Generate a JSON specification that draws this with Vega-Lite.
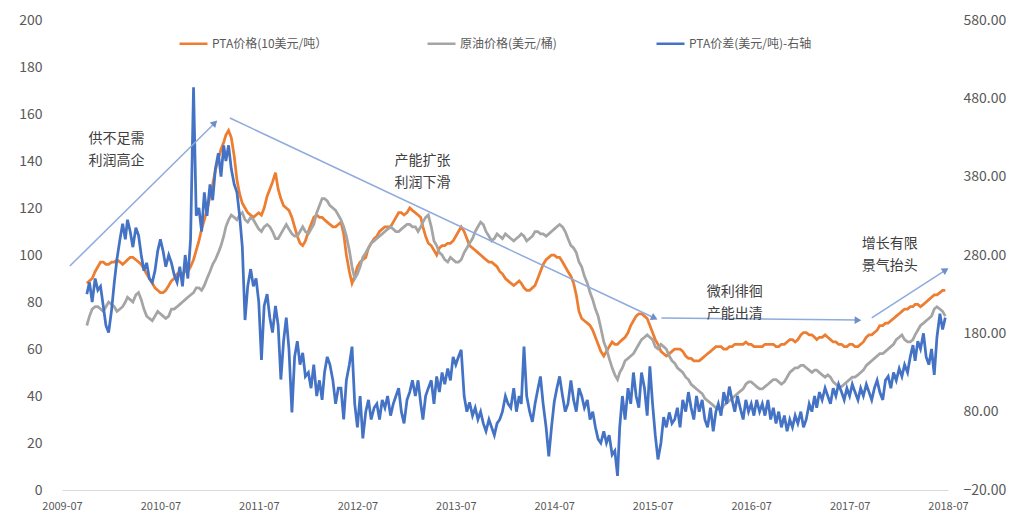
{
"$schema":"https://vega.github.io/schema/vega-lite/v6.json",
"width":886,"height":470,
"autosize":{"type":"none"},
"padding":{"left":62,"top":20,"right":69,"bottom":25},
"background":"white",
"config":{"view":{"stroke":null},"font":"Noto Sans CJK SC","text":{"font":"Noto Sans CJK SC"}},
"datasets":{
"s":[
{"d":"2009-10-01","p":88,"o":70,"s":230},{"d":"2009-10-11","p":89,"o":74,"s":245},{"d":"2009-10-21","p":90,"o":77,"s":220},
{"d":"2009-11-01","p":93,"o":78,"s":250},{"d":"2009-11-11","p":95,"o":78,"s":235},{"d":"2009-11-21","p":97,"o":77,"s":240},
{"d":"2009-12-01","p":97,"o":76,"s":215},{"d":"2009-12-11","p":96,"o":78,"s":190},{"d":"2009-12-21","p":96,"o":80,"s":181},
{"d":"2010-01-01","p":97,"o":79,"s":210},{"d":"2010-01-11","p":97,"o":78,"s":245},{"d":"2010-01-21","p":98,"o":76,"s":275},
{"d":"2010-02-01","p":97,"o":77,"s":300},{"d":"2010-02-11","p":96,"o":78,"s":320},{"d":"2010-02-21","p":97,"o":80,"s":300},
{"d":"2010-03-01","p":98,"o":82,"s":325},{"d":"2010-03-11","p":99,"o":81,"s":310},{"d":"2010-03-21","p":99,"o":80,"s":290},
{"d":"2010-04-01","p":98,"o":83,"s":315},{"d":"2010-04-11","p":97,"o":84,"s":305},{"d":"2010-04-21","p":96,"o":81,"s":280},
{"d":"2010-05-01","p":94,"o":77,"s":260},{"d":"2010-05-11","p":92,"o":74,"s":270},{"d":"2010-05-21","p":90,"o":73,"s":250},
{"d":"2010-06-01","p":88,"o":72,"s":245},{"d":"2010-06-11","p":86,"o":74,"s":260},{"d":"2010-06-21","p":85,"o":76,"s":285},
{"d":"2010-07-01","p":84,"o":75,"s":300},{"d":"2010-07-11","p":84,"o":74,"s":285},{"d":"2010-07-21","p":85,"o":73,"s":265},
{"d":"2010-08-01","p":87,"o":74,"s":280},{"d":"2010-08-11","p":89,"o":77,"s":270},{"d":"2010-08-21","p":90,"o":77,"s":255},
{"d":"2010-09-01","p":92,"o":78,"s":245},{"d":"2010-09-11","p":92,"o":79,"s":265},{"d":"2010-09-21","p":92,"o":80,"s":240},
{"d":"2010-10-01","p":93,"o":81,"s":280},{"d":"2010-10-11","p":93,"o":82,"s":250},{"d":"2010-10-21","p":95,"o":83,"s":300},
{"d":"2010-11-01","p":98,"o":84,"s":494},{"d":"2010-11-11","p":102,"o":86,"s":330},{"d":"2010-11-21","p":106,"o":86,"s":340},
{"d":"2010-12-01","p":111,"o":85,"s":310},{"d":"2010-12-11","p":115,"o":87,"s":360},{"d":"2010-12-21","p":119,"o":90,"s":330},
{"d":"2011-01-01","p":125,"o":93,"s":370},{"d":"2011-01-11","p":130,"o":96,"s":350},{"d":"2011-01-21","p":136,"o":98,"s":390},
{"d":"2011-02-01","p":141,"o":101,"s":410},{"d":"2011-02-11","p":145,"o":104,"s":380},{"d":"2011-02-21","p":148,"o":108,"s":420},
{"d":"2011-03-01","p":151,"o":112,"s":400},{"d":"2011-03-11","p":153,"o":115,"s":420},{"d":"2011-03-21","p":150,"o":117,"s":390},
{"d":"2011-04-01","p":142,"o":116,"s":370},{"d":"2011-04-11","p":132,"o":115,"s":360},{"d":"2011-04-21","p":126,"o":117,"s":330},
{"d":"2011-05-01","p":122,"o":118,"s":290},{"d":"2011-05-11","p":120,"o":115,"s":197},{"d":"2011-05-21","p":118,"o":114,"s":240},
{"d":"2011-06-01","p":117,"o":116,"s":262},{"d":"2011-06-11","p":116,"o":115,"s":240},{"d":"2011-06-21","p":117,"o":113,"s":250},
{"d":"2011-07-01","p":118,"o":111,"s":220},{"d":"2011-07-11","p":117,"o":110,"s":146},{"d":"2011-07-21","p":120,"o":112,"s":215},
{"d":"2011-08-01","p":125,"o":113,"s":230},{"d":"2011-08-11","p":128,"o":112,"s":200},{"d":"2011-08-21","p":131,"o":110,"s":181},
{"d":"2011-09-01","p":135,"o":107,"s":215},{"d":"2011-09-11","p":128,"o":107,"s":190},{"d":"2011-09-21","p":124,"o":109,"s":121},
{"d":"2011-10-01","p":121,"o":111,"s":170},{"d":"2011-10-11","p":120,"o":113,"s":200},{"d":"2011-10-21","p":119,"o":111,"s":160},
{"d":"2011-11-01","p":116,"o":109,"s":79},{"d":"2011-11-11","p":112,"o":108,"s":150},{"d":"2011-11-21","p":108,"o":108,"s":170},
{"d":"2011-12-01","p":105,"o":110,"s":140},{"d":"2011-12-11","p":104,"o":112,"s":155},{"d":"2011-12-21","p":106,"o":110,"s":125},
{"d":"2012-01-01","p":110,"o":109,"s":130},{"d":"2012-01-11","p":113,"o":111,"s":110},{"d":"2012-01-21","p":116,"o":113,"s":140},
{"d":"2012-02-01","p":117,"o":118,"s":100},{"d":"2012-02-11","p":116,"o":121,"s":120},{"d":"2012-02-21","p":116,"o":124,"s":95},
{"d":"2012-03-01","p":115,"o":124,"s":130},{"d":"2012-03-11","p":114,"o":123,"s":150},{"d":"2012-03-21","p":113,"o":121,"s":140},
{"d":"2012-04-01","p":112,"o":120,"s":120},{"d":"2012-04-11","p":112,"o":119,"s":90},{"d":"2012-04-21","p":113,"o":117,"s":110},
{"d":"2012-05-01","p":114,"o":115,"s":110},{"d":"2012-05-11","p":109,"o":112,"s":70},{"d":"2012-05-21","p":100,"o":108,"s":120},
{"d":"2012-06-01","p":93,"o":102,"s":140},{"d":"2012-06-11","p":88,"o":95,"s":163},{"d":"2012-06-21","p":91,"o":90,"s":90},
{"d":"2012-07-01","p":95,"o":92,"s":60},{"d":"2012-07-11","p":97,"o":95,"s":100},{"d":"2012-07-21","p":98,"o":99,"s":46},
{"d":"2012-08-01","p":99,"o":101,"s":80},{"d":"2012-08-11","p":103,"o":103,"s":95},{"d":"2012-08-21","p":105,"o":105,"s":70},
{"d":"2012-09-01","p":107,"o":106,"s":85},{"d":"2012-09-11","p":108,"o":107,"s":90},{"d":"2012-09-21","p":110,"o":108,"s":70},
{"d":"2012-10-01","p":111,"o":109,"s":95},{"d":"2012-10-11","p":112,"o":110,"s":85},{"d":"2012-10-21","p":112,"o":111,"s":100},
{"d":"2012-11-01","p":112,"o":112,"s":75},{"d":"2012-11-11","p":114,"o":111,"s":90},{"d":"2012-11-21","p":116,"o":110,"s":100},
{"d":"2012-12-01","p":118,"o":110,"s":110},{"d":"2012-12-11","p":118,"o":111,"s":80},{"d":"2012-12-21","p":117,"o":112,"s":65},
{"d":"2013-01-01","p":118,"o":113,"s":95},{"d":"2013-01-11","p":120,"o":113,"s":105},{"d":"2013-01-21","p":119,"o":112,"s":120},
{"d":"2013-02-01","p":118,"o":112,"s":100},{"d":"2013-02-11","p":117,"o":110,"s":120},{"d":"2013-02-21","p":116,"o":112,"s":90},
{"d":"2013-03-01","p":112,"o":114,"s":70},{"d":"2013-03-11","p":108,"o":116,"s":100},{"d":"2013-03-21","p":105,"o":117,"s":110},
{"d":"2013-04-01","p":104,"o":112,"s":120},{"d":"2013-04-11","p":102,"o":106,"s":90},{"d":"2013-04-21","p":100,"o":104,"s":125},
{"d":"2013-05-01","p":103,"o":101,"s":105},{"d":"2013-05-11","p":104,"o":100,"s":130},{"d":"2013-05-21","p":104,"o":98,"s":115},
{"d":"2013-06-01","p":105,"o":97,"s":135},{"d":"2013-06-11","p":105,"o":99,"s":120},{"d":"2013-06-21","p":106,"o":98,"s":150},
{"d":"2013-07-01","p":108,"o":97,"s":140},{"d":"2013-07-11","p":110,"o":97,"s":150},{"d":"2013-07-21","p":112,"o":98,"s":159},
{"d":"2013-08-01","p":110,"o":101,"s":100},{"d":"2013-08-11","p":107,"o":103,"s":80},{"d":"2013-08-21","p":104,"o":105,"s":92},
{"d":"2013-09-01","p":103,"o":107,"s":75},{"d":"2013-09-11","p":102,"o":110,"s":85},{"d":"2013-09-21","p":101,"o":112,"s":70},
{"d":"2013-10-01","p":100,"o":114,"s":80},{"d":"2013-10-11","p":99,"o":113,"s":65},{"d":"2013-10-21","p":98,"o":110,"s":55},
{"d":"2013-11-01","p":97,"o":108,"s":70},{"d":"2013-11-11","p":97,"o":106,"s":60},{"d":"2013-11-21","p":96,"o":107,"s":50},
{"d":"2013-12-01","p":95,"o":109,"s":65},{"d":"2013-12-11","p":93,"o":108,"s":70},{"d":"2013-12-21","p":92,"o":107,"s":80},
{"d":"2014-01-01","p":90,"o":109,"s":100},{"d":"2014-01-11","p":89,"o":108,"s":90},{"d":"2014-01-21","p":88,"o":107,"s":85},
{"d":"2014-02-01","p":87,"o":106,"s":110},{"d":"2014-02-11","p":88,"o":107,"s":80},{"d":"2014-02-21","p":89,"o":108,"s":100},
{"d":"2014-03-01","p":88,"o":109,"s":90},{"d":"2014-03-11","p":86,"o":108,"s":163},{"d":"2014-03-21","p":85,"o":106,"s":100},
{"d":"2014-04-01","p":85,"o":107,"s":80},{"d":"2014-04-11","p":86,"o":108,"s":67},{"d":"2014-04-21","p":87,"o":110,"s":90},
{"d":"2014-05-01","p":90,"o":110,"s":108},{"d":"2014-05-11","p":93,"o":109,"s":125},{"d":"2014-05-21","p":96,"o":109,"s":90},
{"d":"2014-06-01","p":98,"o":108,"s":60},{"d":"2014-06-11","p":99,"o":109,"s":23},{"d":"2014-06-21","p":100,"o":110,"s":60},
{"d":"2014-07-01","p":100,"o":111,"s":92},{"d":"2014-07-11","p":99,"o":112,"s":110},{"d":"2014-07-21","p":99,"o":113,"s":125},
{"d":"2014-08-01","p":97,"o":112,"s":100},{"d":"2014-08-11","p":95,"o":110,"s":80},{"d":"2014-08-21","p":93,"o":107,"s":90},
{"d":"2014-09-01","p":91,"o":104,"s":120},{"d":"2014-09-11","p":88,"o":103,"s":95},{"d":"2014-09-21","p":83,"o":101,"s":80},
{"d":"2014-10-01","p":76,"o":97,"s":110},{"d":"2014-10-11","p":73,"o":95,"s":100},{"d":"2014-10-21","p":72,"o":91,"s":85},
{"d":"2014-11-01","p":71,"o":88,"s":95},{"d":"2014-11-11","p":70,"o":84,"s":70},{"d":"2014-11-21","p":68,"o":81,"s":80},
{"d":"2014-12-01","p":65,"o":77,"s":60},{"d":"2014-12-11","p":62,"o":74,"s":45},{"d":"2014-12-21","p":59,"o":69,"s":40},
{"d":"2015-01-01","p":57,"o":63,"s":55},{"d":"2015-01-11","p":59,"o":60,"s":40},{"d":"2015-01-21","p":61,"o":56,"s":50},
{"d":"2015-02-01","p":63,"o":52,"s":25},{"d":"2015-02-11","p":62,"o":49,"s":30},{"d":"2015-02-21","p":62,"o":47,"s":-2},
{"d":"2015-03-01","p":63,"o":50,"s":60},{"d":"2015-03-11","p":64,"o":52,"s":100},{"d":"2015-03-21","p":65,"o":55,"s":70},
{"d":"2015-04-01","p":67,"o":56,"s":110},{"d":"2015-04-11","p":70,"o":57,"s":90},{"d":"2015-04-21","p":72,"o":58,"s":130},
{"d":"2015-05-01","p":74,"o":60,"s":100},{"d":"2015-05-11","p":75,"o":62,"s":85},{"d":"2015-05-21","p":75,"o":64,"s":130},
{"d":"2015-06-01","p":74,"o":65,"s":110},{"d":"2015-06-11","p":73,"o":66,"s":75},{"d":"2015-06-21","p":70,"o":65,"s":138},
{"d":"2015-07-01","p":67,"o":64,"s":90},{"d":"2015-07-11","p":64,"o":61,"s":50},{"d":"2015-07-21","p":62,"o":60,"s":19},
{"d":"2015-08-01","p":59,"o":62,"s":40},{"d":"2015-08-11","p":58,"o":61,"s":73},{"d":"2015-08-21","p":57,"o":60,"s":60},
{"d":"2015-09-01","p":58,"o":57,"s":79},{"d":"2015-09-11","p":59,"o":55,"s":65},{"d":"2015-09-21","p":60,"o":54,"s":70},
{"d":"2015-10-01","p":60,"o":52,"s":85},{"d":"2015-10-11","p":60,"o":51,"s":60},{"d":"2015-10-21","p":59,"o":50,"s":95},
{"d":"2015-11-01","p":57,"o":48,"s":80},{"d":"2015-11-11","p":56,"o":47,"s":105},{"d":"2015-11-21","p":56,"o":45,"s":85},
{"d":"2015-12-01","p":55,"o":44,"s":70},{"d":"2015-12-11","p":55,"o":43,"s":100},{"d":"2015-12-21","p":55,"o":42,"s":80},
{"d":"2016-01-01","p":56,"o":41,"s":95},{"d":"2016-01-11","p":57,"o":39,"s":70},{"d":"2016-01-21","p":58,"o":38,"s":60},
{"d":"2016-02-01","p":59,"o":37,"s":85},{"d":"2016-02-11","p":60,"o":36,"s":55},{"d":"2016-02-21","p":61,"o":35,"s":80},
{"d":"2016-03-01","p":61,"o":35,"s":90},{"d":"2016-03-11","p":61,"o":34,"s":75},{"d":"2016-03-21","p":60,"o":36,"s":105},
{"d":"2016-04-01","p":60,"o":37,"s":90},{"d":"2016-04-11","p":61,"o":38,"s":112},{"d":"2016-04-21","p":61,"o":39,"s":95},
{"d":"2016-05-01","p":62,"o":40,"s":80},{"d":"2016-05-11","p":62,"o":41,"s":100},{"d":"2016-05-21","p":62,"o":42,"s":85},
{"d":"2016-06-01","p":62,"o":43,"s":70},{"d":"2016-06-11","p":63,"o":45,"s":95},{"d":"2016-06-21","p":62,"o":46,"s":80},
{"d":"2016-07-01","p":62,"o":46,"s":90},{"d":"2016-07-11","p":61,"o":45,"s":75},{"d":"2016-07-21","p":61,"o":44,"s":95},
{"d":"2016-08-01","p":61,"o":43,"s":80},{"d":"2016-08-11","p":61,"o":43,"s":90},{"d":"2016-08-21","p":62,"o":44,"s":75},
{"d":"2016-09-01","p":62,"o":45,"s":95},{"d":"2016-09-11","p":62,"o":46,"s":70},{"d":"2016-09-21","p":62,"o":47,"s":85},
{"d":"2016-10-01","p":61,"o":47,"s":65},{"d":"2016-10-11","p":61,"o":46,"s":80},{"d":"2016-10-21","p":62,"o":45,"s":60},
{"d":"2016-11-01","p":62,"o":46,"s":75},{"d":"2016-11-11","p":63,"o":48,"s":55},{"d":"2016-11-21","p":64,"o":50,"s":70},
{"d":"2016-12-01","p":64,"o":51,"s":60},{"d":"2016-12-11","p":63,"o":52,"s":75},{"d":"2016-12-21","p":64,"o":52,"s":65},
{"d":"2017-01-01","p":66,"o":53,"s":80},{"d":"2017-01-11","p":67,"o":53,"s":60},{"d":"2017-01-21","p":67,"o":52,"s":70},
{"d":"2017-02-01","p":66,"o":51,"s":90},{"d":"2017-02-11","p":66,"o":50,"s":80},{"d":"2017-02-21","p":65,"o":51,"s":100},
{"d":"2017-03-01","p":64,"o":51,"s":85},{"d":"2017-03-11","p":65,"o":50,"s":105},{"d":"2017-03-21","p":65,"o":49,"s":95},
{"d":"2017-04-01","p":66,"o":48,"s":110},{"d":"2017-04-11","p":65,"o":49,"s":100},{"d":"2017-04-21","p":64,"o":48,"s":90},
{"d":"2017-05-01","p":63,"o":46,"s":110},{"d":"2017-05-11","p":63,"o":45,"s":100},{"d":"2017-05-21","p":62,"o":44,"s":115},
{"d":"2017-06-01","p":62,"o":44,"s":105},{"d":"2017-06-11","p":61,"o":45,"s":95},{"d":"2017-06-21","p":61,"o":46,"s":110},
{"d":"2017-07-01","p":62,"o":47,"s":100},{"d":"2017-07-11","p":62,"o":48,"s":115},{"d":"2017-07-21","p":61,"o":48,"s":105},
{"d":"2017-08-01","p":61,"o":49,"s":95},{"d":"2017-08-11","p":62,"o":50,"s":110},{"d":"2017-08-21","p":63,"o":51,"s":100},
{"d":"2017-09-01","p":65,"o":53,"s":115},{"d":"2017-09-11","p":66,"o":54,"s":105},{"d":"2017-09-21","p":66,"o":55,"s":95},
{"d":"2017-10-01","p":67,"o":56,"s":110},{"d":"2017-10-11","p":68,"o":57,"s":120},{"d":"2017-10-21","p":70,"o":58,"s":105},
{"d":"2017-11-01","p":70,"o":58,"s":95},{"d":"2017-11-11","p":71,"o":59,"s":120},{"d":"2017-11-21","p":71,"o":60,"s":125},
{"d":"2017-12-01","p":72,"o":61,"s":110},{"d":"2017-12-11","p":73,"o":62,"s":130},{"d":"2017-12-21","p":74,"o":64,"s":120},
{"d":"2018-01-01","p":75,"o":65,"s":135},{"d":"2018-01-11","p":76,"o":66,"s":125},{"d":"2018-01-21","p":77,"o":64,"s":140},
{"d":"2018-02-01","p":77,"o":63,"s":130},{"d":"2018-02-11","p":78,"o":63,"s":150},{"d":"2018-02-21","p":78,"o":64,"s":165},
{"d":"2018-03-01","p":79,"o":66,"s":145},{"d":"2018-03-11","p":79,"o":68,"s":170},{"d":"2018-03-21","p":78,"o":70,"s":160},
{"d":"2018-04-01","p":79,"o":71,"s":180},{"d":"2018-04-11","p":80,"o":72,"s":150},{"d":"2018-04-21","p":81,"o":73,"s":140},
{"d":"2018-05-01","p":82,"o":74,"s":160},{"d":"2018-05-11","p":83,"o":77,"s":127},{"d":"2018-05-21","p":83,"o":78,"s":175},
{"d":"2018-06-01","p":84,"o":77,"s":205},{"d":"2018-06-11","p":85,"o":76,"s":185},{"d":"2018-06-21","p":85,"o":74,"s":200}
],
"arrows":[
{"a":1,"x":"2009-07-30","y":95.3,"x2":"2011-01-19","y2":156.2},
{"a":2,"x":"2011-03-16","y":158.3,"x2":"2015-07-08","y2":73.2},
{"a":3,"x":"2015-08-03","y":73.2,"x2":"2017-08-01","y2":72.3},
{"a":4,"x":"2017-09-21","y":73.2,"x2":"2018-06-22","y2":93.6}
],
"notes":[
{"x":"2010-01-19","y":149.4,"t":"供不足需\n利润高企"},
{"x":"2013-02-27","y":140,"t":"产能扩张\n利润下滑"},
{"x":"2016-05-01","y":84.3,"t":"微利徘徊\n产能出清"},
{"x":"2017-11-27","y":104.7,"t":"增长有限\n景气抬头"}
]
},
"layer":[
{"data":{"name":"s"},
 "transform":[{"fold":["p","o"],"as":["k","v"]}],
 "mark":{"type":"line","strokeWidth":2.75},
 "encoding":{
  "x":{"field":"d","type":"temporal",
   "scale":{"domain":[{"year":2009,"month":7,"date":1},{"year":2018,"month":7,"date":1}]},
   "axis":{"title":null,"values":[{"year":2009,"month":7,"date":1},{"year":2010,"month":7,"date":1},{"year":2011,"month":7,"date":1},{"year":2012,"month":7,"date":1},{"year":2013,"month":7,"date":1},{"year":2014,"month":7,"date":1},{"year":2015,"month":7,"date":1},{"year":2016,"month":7,"date":1},{"year":2017,"month":7,"date":1},{"year":2018,"month":7,"date":1}],
    "format":"%Y-%m","grid":false,"ticks":false,"domainColor":"#D9D9D9","domainWidth":1,"labelColor":"#595959","labelFontSize":11,"labelPadding":10,"labelFlush":false,"labelOverlap":false}},
  "y":{"field":"v","type":"quantitative","scale":{"domain":[0,200],"nice":false},
   "axis":{"title":null,"values":[0,20,40,60,80,100,120,140,160,180,200],"grid":false,"ticks":false,"domain":false,"labelColor":"#595959","labelFontSize":14,"labelPadding":20}},
  "color":{"field":"k","type":"nominal","scale":{"domain":["p","o","s"],"range":["#ED7D31","#A5A5A5","#4472C4"]},
   "legend":{"title":null,"orient":"none","legendX":116,"legendY":8,"direction":"horizontal","columns":3,"columnPadding":94,"symbolType":"stroke","symbolSize":784,"symbolStrokeWidth":2.5,"labelFontSize":12,"labelColor":"#595959","labelOffset":3,"padding":0,
    "labelExpr":"datum.value == 'p' ? 'PTA价格(10美元/吨）' : datum.value == 'o' ? '原油价格(美元/桶)' : 'PTA价差(美元/吨)-右轴'"}}
 }},
{"data":{"name":"s"},
 "mark":{"type":"line","strokeWidth":2.75},
 "encoding":{
  "x":{"field":"d","type":"temporal"},
  "y":{"field":"s","type":"quantitative","scale":{"domain":[-20,580],"nice":false},
   "axis":{"title":null,"orient":"right","values":[-20,80,180,280,380,480,580],"format":".2f","grid":false,"ticks":false,"domain":false,"labelColor":"#595959","labelFontSize":14,"labelPadding":15}},
  "color":{"datum":"s","type":"nominal"}
 }},
{"data":{"name":"arrows"},
 "mark":{"type":"rule","color":"#8FAADC","strokeWidth":1.5},
 "encoding":{
  "x":{"field":"x","type":"temporal"},"x2":{"field":"x2"},
  "y":{"field":"y","type":"quantitative","scale":{"domain":[0,200],"nice":false},"axis":null},"y2":{"field":"y2"}
 }},
{"data":{"name":"arrows"},"transform":[{"filter":"datum.a == 1"}],
 "mark":{"type":"point","shape":"triangle-up","filled":true,"color":"#6F8FC9","size":60,"angle":45,"opacity":1},
 "encoding":{"x":{"field":"x2","type":"temporal"},"y":{"field":"y2","type":"quantitative","scale":{"domain":[0,200],"nice":false},"axis":null}}},
{"data":{"name":"arrows"},"transform":[{"filter":"datum.a == 2"}],
 "mark":{"type":"point","shape":"triangle-up","filled":true,"color":"#6F8FC9","size":60,"angle":115,"opacity":1},
 "encoding":{"x":{"field":"x2","type":"temporal"},"y":{"field":"y2","type":"quantitative","scale":{"domain":[0,200],"nice":false},"axis":null}}},
{"data":{"name":"arrows"},"transform":[{"filter":"datum.a == 3"}],
 "mark":{"type":"point","shape":"triangle-up","filled":true,"color":"#6F8FC9","size":60,"angle":91,"opacity":1},
 "encoding":{"x":{"field":"x2","type":"temporal"},"y":{"field":"y2","type":"quantitative","scale":{"domain":[0,200],"nice":false},"axis":null}}},
{"data":{"name":"arrows"},"transform":[{"filter":"datum.a == 4"}],
 "mark":{"type":"point","shape":"triangle-up","filled":true,"color":"#6F8FC9","size":60,"angle":57,"opacity":1},
 "encoding":{"x":{"field":"x2","type":"temporal"},"y":{"field":"y2","type":"quantitative","scale":{"domain":[0,200],"nice":false},"axis":null}}},
{"data":{"name":"notes"},
 "mark":{"type":"text","lineBreak":"\n","fontSize":14,"lineHeight":22,"align":"center","baseline":"middle","color":"#404040","font":"Noto Sans CJK SC"},
 "encoding":{"x":{"field":"x","type":"temporal"},"y":{"field":"y","type":"quantitative","scale":{"domain":[0,200],"nice":false},"axis":null},"text":{"field":"t"}}}
],
"resolve":{"scale":{"y":"independent"}}
}
